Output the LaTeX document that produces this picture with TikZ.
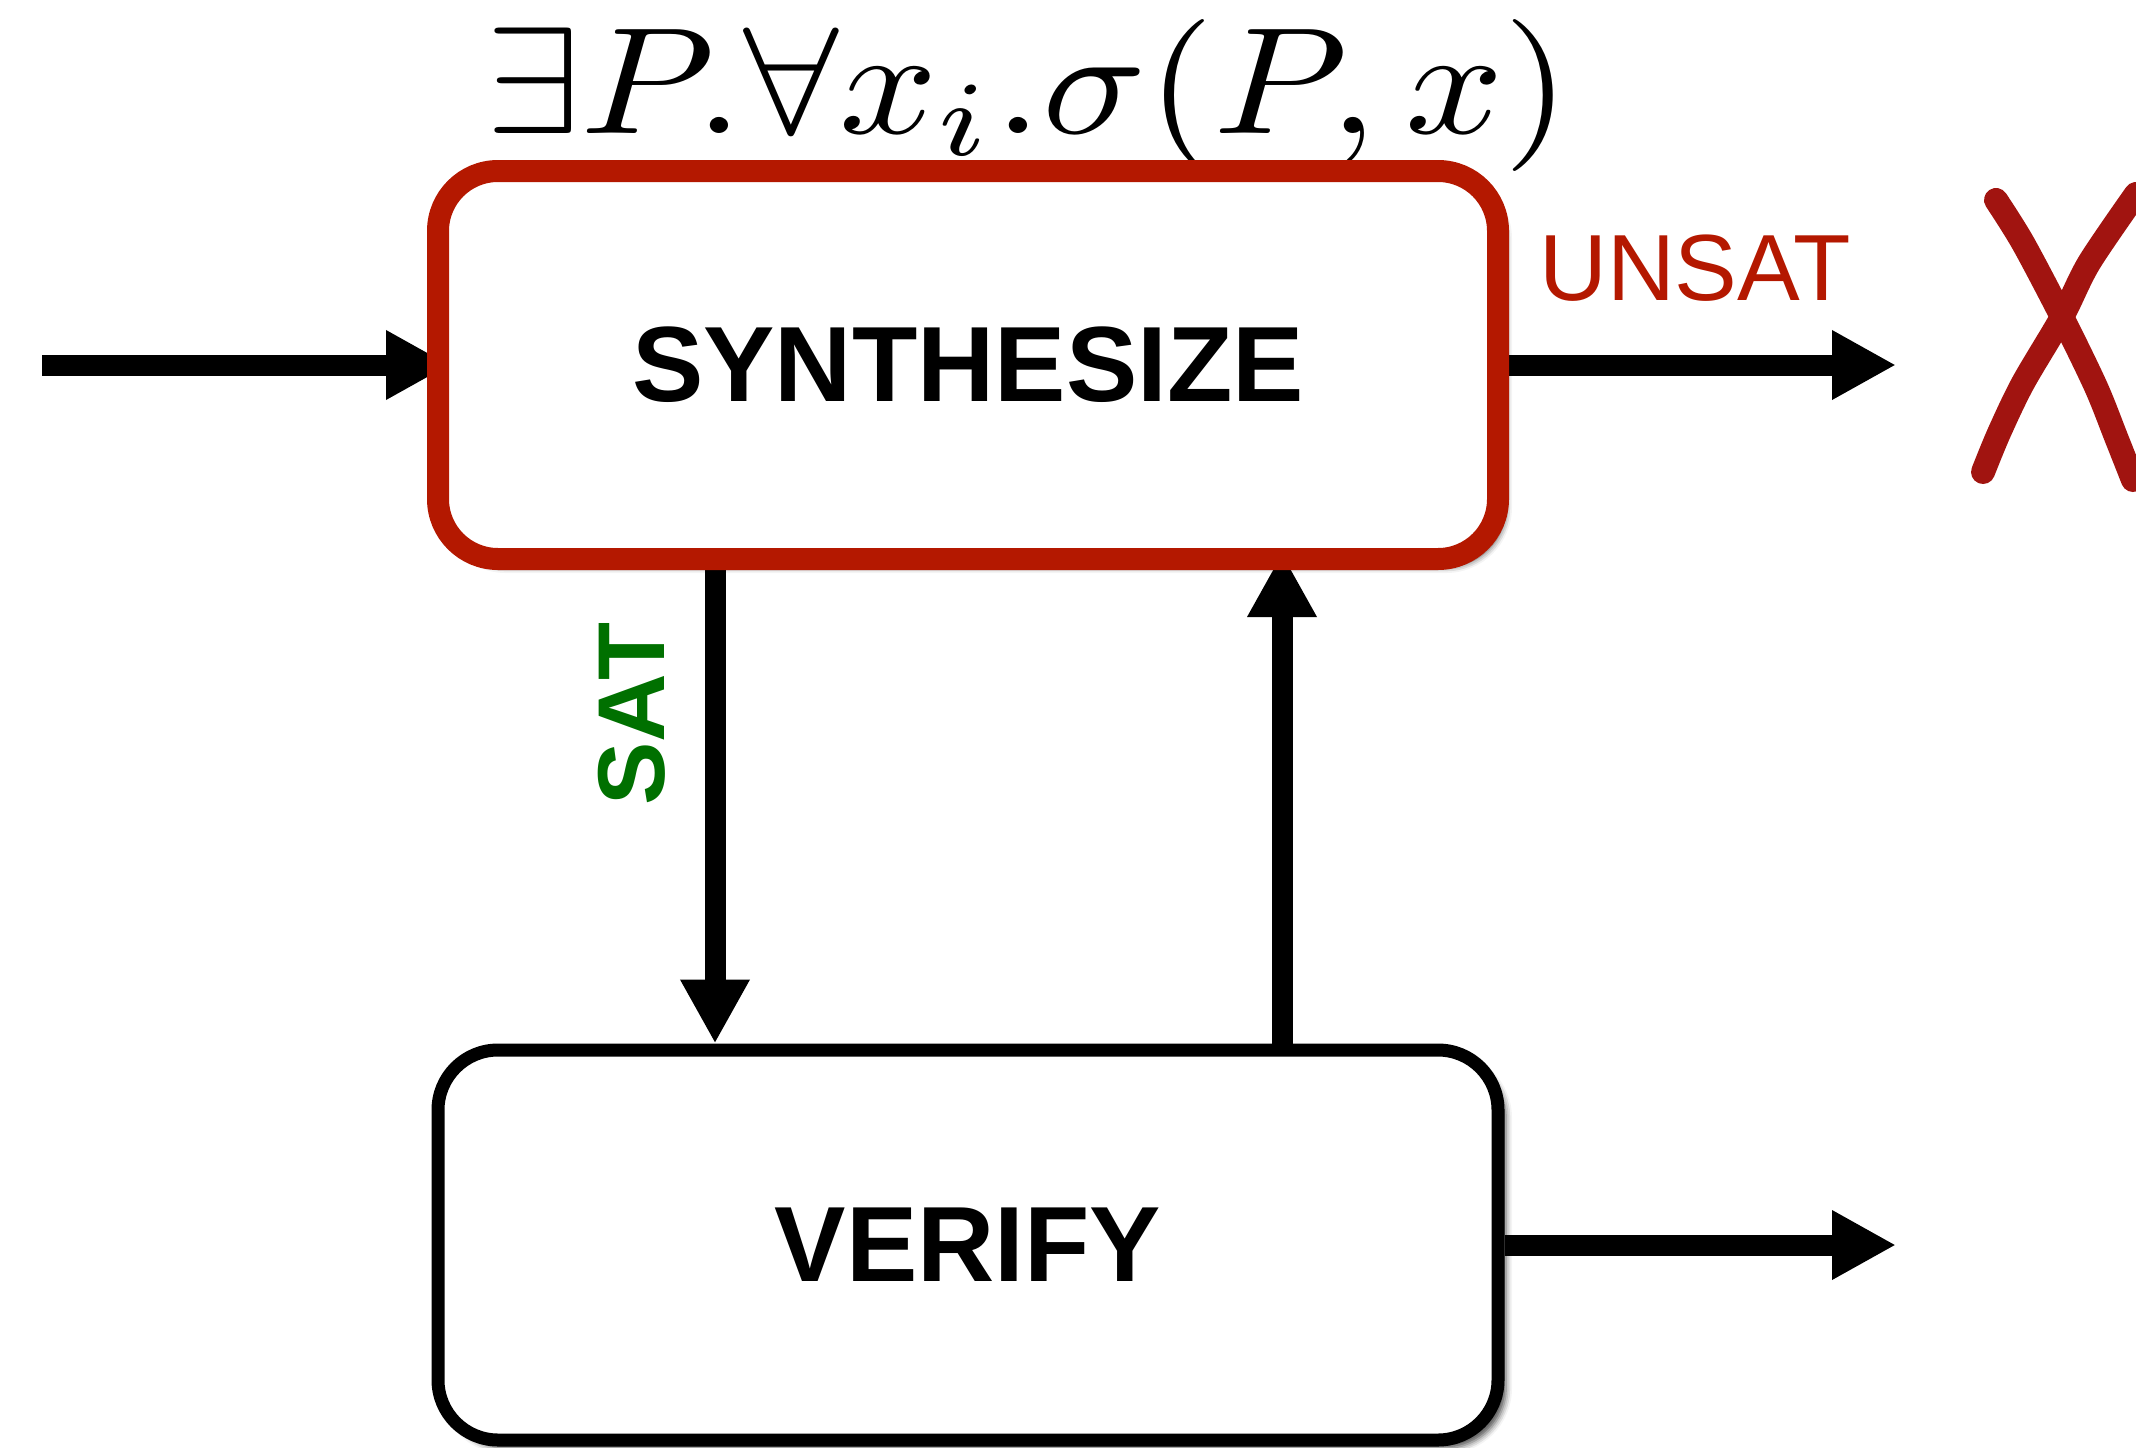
\documentclass[tikz,border=0pt]{standalone}
\usepackage{fontspec}
\newfontfamily\hv{Liberation Sans}
\usetikzlibrary{arrows.meta,shadows.blur}
\definecolor{sred}{RGB}{180,24,0}
\definecolor{xred}{RGB}{161,20,16}
\definecolor{sgreen}{RGB}{0,112,0}
\pgfdeclarelayer{background}
\pgfsetlayers{background,main}
\begin{document}
\begin{tikzpicture}[x=1pt,y=-1pt,
  box/.style={draw, fill=white, rounded corners=60pt, minimum width=1060pt,
    minimum height=388pt, inner sep=0pt,
    blur shadow={shadow xshift=8pt, shadow yshift=-8pt, shadow blur radius=6pt, shadow opacity=70}},
  arr/.style={line width=21pt, -{Triangle[width=65pt,length=64pt]}},
  boxlabel/.style={font=\hv\bfseries\fontsize{107}{107}\selectfont},
  xstroke/.style={draw=xred, line width=24pt, line cap=round, line join=round}]
\useasboundingbox (0,0) rectangle (2136,1448);

% formula
\node[anchor=base, inner sep=0pt] (formula) at (1028,133)
  {\scalebox{17.2}[15.2]{$\exists P.\forall x_i.\sigma(P,x)$}};

% boxes
\node[box, draw=sred, line width=22pt, outer sep=0pt, boxlabel] (synth) at (968,365) {SYNTHESIZE};
\node[box, draw=black, line width=13pt, minimum height=390pt, boxlabel] (verify) at (968,1245) {VERIFY};

% free ends
\coordinate (inStart) at (42,365);
\coordinate (unsatEnd) at (1896,365);
\coordinate (outEnd) at (1896,1245);
\coordinate (satx) at (715,0);
\coordinate (upx) at (1282,0);

% connectors (behind the boxes)
\begin{pgfonlayer}{background}
\draw[arr, shorten >=-12pt] (inStart) -- (synth.west);
\draw[arr] (synth.east) -- (unsatEnd);
\draw[arr] (synth.south -| satx) -- (verify.north -| satx);
\draw[arr, shorten >=-6pt] (verify.north -| upx) -- (synth.south -| upx);
\draw[arr] (verify.east) -- (outEnd);
\end{pgfonlayer}

% labels
\node[text=sred, font=\hv\fontsize{94}{94}\selectfont, inner sep=0pt] (unsat) at (1695,268) {UNSAT};
\node[rotate=90, text=sgreen, font=\hv\bfseries\fontsize{95}{95}\selectfont, inner sep=0pt] (sat) at (632,714) {SAT};

% hand-drawn X
\draw[xstroke] plot[smooth] coordinates {(1996,200) (2023,243) (2062,317) (2096,387) (2116,437) (2133,480)};
\draw[xstroke] plot[smooth] coordinates {(2136,194) (2089,263) (2062,317) (2023,383) (1999,433) (1983,472)};
\end{tikzpicture}
\end{document}
